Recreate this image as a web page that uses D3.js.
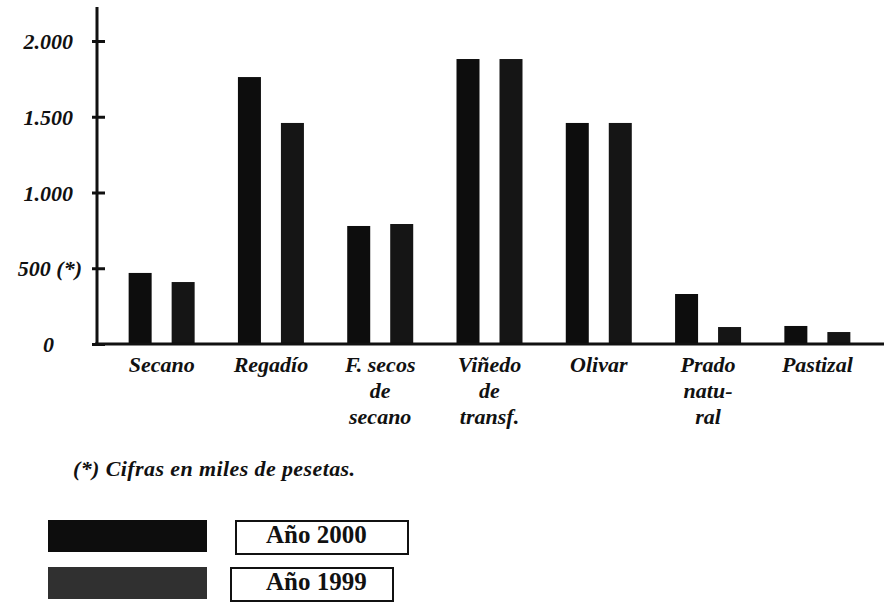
<!DOCTYPE html>
<html>
<head>
<meta charset="utf-8">
<script src="https://cdn.jsdelivr.net/npm/d3@7"></script>
<style>
  html, body { margin: 0; padding: 0; background: #fff; }
  svg { display: block; }
  .lab { font-family: "Liberation Serif", "DejaVu Serif", serif; font-style: italic; font-weight: bold; fill: #111; }
  .leg { font-family: "Liberation Serif", "DejaVu Serif", serif; font-weight: bold; fill: #111; }
</style>
</head>
<body>
<svg id="chart" width="884" height="604"></svg>
<script>
// ---- data ----
const categories = [
  ["Secano"],
  ["Regadío"],
  ["F. secos", "de", "secano"],
  ["Viñedo", "de", "transf."],
  ["Olivar"],
  ["Prado", "natu-", "ral"],
  ["Pastizal"]
];
const seriesNames = ["Año 2000", "Año 1999"];
const values2000 = [469, 1762, 779, 1881, 1459, 330, 119];
const values1999 = [409, 1459, 792, 1881, 1459, 112, 79];
const tickValues = [0, 500, 1000, 1500, 2000];
const tickLabels = ["0", "500 (*)", "1.000", "1.500", "2.000"];
const footnote = "(*) Cifras en miles de pesetas.";

// ---- drawing ----
const svg = d3.select("#chart");
const colors = ["#0d0d0d", "#151515"];
const legendColors = ["#0d0d0d", "#303030"];

const y = d3.scaleLinear().domain([0, 2000]).range([344, 41]);
const x = d3.scaleBand().domain(d3.range(categories.length)).range([107, 872]).paddingInner(0).paddingOuter(0);
const xs = d3.scaleBand().domain([0, 1]).range([0, 66]).paddingInner(0.465).paddingOuter(0);
const groupOffset = (x.bandwidth() - 66) / 2;

// bars
const series = [values2000, values1999];
series.forEach((vals, si) => {
  svg.append("g").selectAll("rect").data(vals).join("rect")
    .attr("x", (d, i) => x(i) + groupOffset + xs(si))
    .attr("y", d => y(d))
    .attr("width", xs.bandwidth())
    .attr("height", d => y(0) - y(d))
    .attr("fill", colors[si]);
});

// y axis
const yAxis = d3.axisLeft(y).tickValues(tickValues)
  .tickFormat((d, i) => tickLabels[i]).tickSize(0).tickPadding(0);
const gy = svg.append("g").attr("transform", "translate(97,0)").call(yAxis);
gy.select(".domain").remove();
gy.selectAll(".tick text").attr("class", "lab").style("font-size", "22px")
  .attr("x", d => d === 0 ? -43 : (d === 500 ? -15 : -24))
  .attr("dy", "0.35em").attr("text-anchor", "end");
gy.selectAll(".tick").append("line").attr("x1", -5).attr("x2", 8)
  .attr("stroke", "#111").attr("stroke-width", 3);
// axis lines
svg.append("line").attr("x1", 97).attr("x2", 97).attr("y1", 7).attr("y2", y(0) + 1)
  .attr("stroke", "#111").attr("stroke-width", 3);
svg.append("line").attr("x1", 95).attr("x2", 884).attr("y1", y(0)).attr("y2", y(0))
  .attr("stroke", "#111").attr("stroke-width", 3);

// category labels
const gl = svg.append("g");
categories.forEach((lines, i) => {
  const t = gl.append("text").attr("class", "lab").style("font-size", "22px")
    .attr("text-anchor", "middle");
  lines.forEach((ln, j) => {
    t.append("tspan").attr("x", x(i) + x.bandwidth() / 2).attr("y", 372 + j * 26).text(ln);
  });
});

// footnote
svg.append("text").attr("class", "lab").style("font-size", "22px")
  .attr("x", 73).attr("y", 476).attr("textLength", 282).text(footnote);

// legend
const legY = [520, 567];
const boxX = [[236, 408], [231, 393]];
seriesNames.forEach((name, i) => {
  svg.append("rect").attr("x", 48).attr("y", legY[i]).attr("width", 159).attr("height", 32)
    .attr("fill", legendColors[i]);
  svg.append("rect").attr("x", boxX[i][0]).attr("y", legY[i] + 1)
    .attr("width", boxX[i][1] - boxX[i][0]).attr("height", 33)
    .attr("fill", "#fff").attr("stroke", "#111").attr("stroke-width", 2);
  svg.append("text").attr("class", "leg").style("font-size", "25px")
    .attr("x", 266).attr("y", legY[i] + 23).text(name);
});
</script>
</body>
</html>
